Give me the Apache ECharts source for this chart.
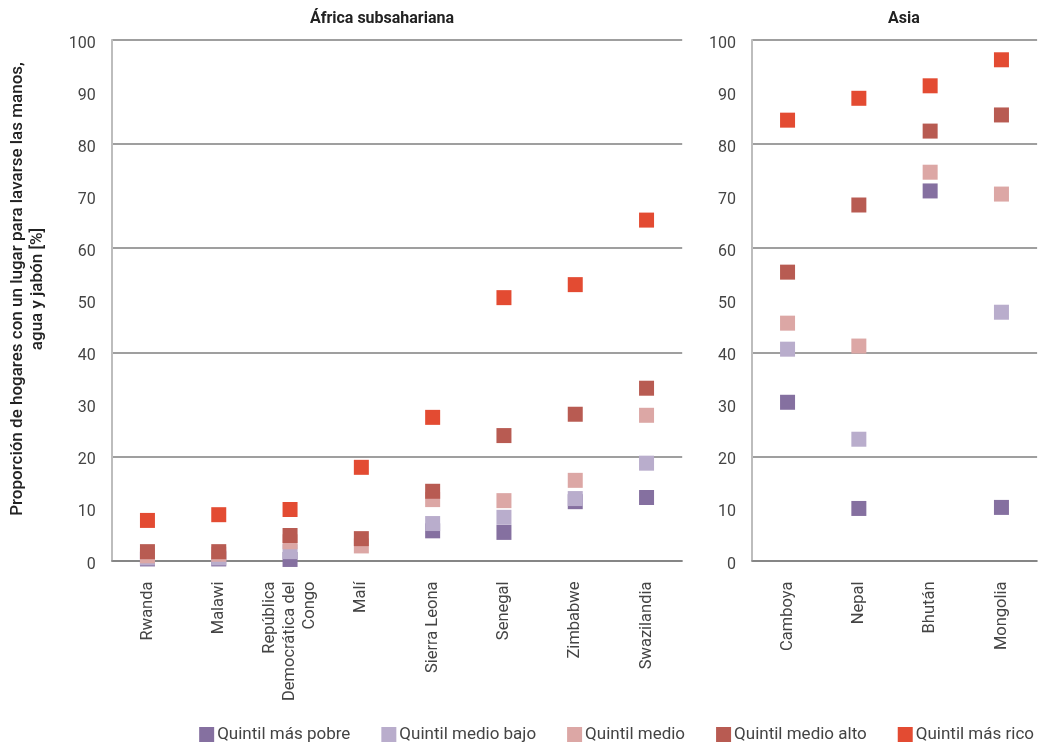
<!DOCTYPE html>
<html><head><meta charset="utf-8">
<script src="https://cdn.jsdelivr.net/npm/echarts@6/dist/echarts.min.js"></script>
<style>html,body{margin:0;padding:0;background:#fff}#c{width:1041px;height:742px}</style>
</head><body><div id="c"></div>
<script>
const africaCountries = ['Rwanda','Malawi','República\nDemocrática del\nCongo','Malí','Sierra Leona','Senegal','Zimbabwe','Swazilandia'];
const asiaCountries = ['Camboya','Nepal','Bhután','Mongolia'];
const quintileNames = ['Quintil más pobre','Quintil medio bajo','Quintil medio','Quintil medio alto','Quintil más rico'];
const quintileColors = ['#8570A0','#B9ADCC','#DCA7A5','#B85B52','#E34B32'];

const africaPoorest     = [0.3, 0.3, 0.2, null, 5.7, 5.4, 11.3, 12.1];
const africaLowerMiddle = [0.5, 0.5, 1.7, null, 7.1, 8.3, 11.9, 18.7];
const africaMiddle      = [0.9, 1.2, 3.6, 2.8, 11.7, 11.5, 15.4, 27.9];
const africaUpperMiddle = [1.7, 1.7, 4.8, 4.2, 13.3, 24.0, 28.1, 33.1];
const africaRichest     = [7.7, 8.8, 9.8, 17.9, 27.5, 50.5, 53.0, 65.4];

const asiaPoorest     = [30.4, 10.0, 71.0, 10.2];
const asiaLowerMiddle = [40.6, 23.3, null, 47.7];
const asiaMiddle      = [45.6, 41.2, 74.6, 70.4];
const asiaUpperMiddle = [55.4, 68.3, 82.5, 85.6];
const asiaRichest     = [84.6, 88.8, 91.2, 96.2];

const yTicks = [0,10,20,30,40,50,60,70,80,90,100];

const africaSeries = [africaPoorest, africaLowerMiddle, africaMiddle, africaUpperMiddle, africaRichest];
const asiaSeries = [asiaPoorest, asiaLowerMiddle, asiaMiddle, asiaUpperMiddle, asiaRichest];

const FONT = 'Roboto, "Noto Sans", sans-serif';
const gridTop = 40, gridBottom = 181.5;

function labelAxis(gridIndex){
  return {type:'value', gridIndex, min:yTicks[0], max:yTicks[yTicks.length-1], interval:10,
    axisLine:{show:true, lineStyle:{color:'#bdbdbd', width:2}},
    axisTick:{show:false}, splitLine:{show:false},
    axisLabel:{color:'#444', fontSize:16, fontFamily:FONT, margin:16,
      formatter:'{a|{value}}', rich:{a:{color:'#444', fontSize:16, fontFamily:FONT, padding:[8,0,0,0]}}}};
}
function splitAxis(gridIndex){
  return {type:'value', gridIndex, min:0, max:100, interval:20,
    axisLine:{show:false}, axisTick:{show:false}, axisLabel:{show:false},
    splitLine:{show:true, lineStyle:{color:'#7f7f7f', width:1.5}}};
}
function catAxis(gridIndex, data){
  return {type:'category', gridIndex, data, boundaryGap:true,
    axisLine:{show:true, lineStyle:{color:'#7f7f7f', width:1.5}},
    axisTick:{show:false},
    axisLabel:{rotate:90, color:'#444', fontSize:16.5, fontFamily:FONT, margin:21, interval:0, lineHeight:20}};
}

const series = [];
quintileNames.forEach((name, i) => {
  series.push({name, type:'scatter', xAxisIndex:0, yAxisIndex:0, symbol:'rect', symbolSize:15,
    itemStyle:{color:quintileColors[i], opacity:1}, data:africaSeries[i], clip:false, z:3+i});
  series.push({name, type:'scatter', xAxisIndex:1, yAxisIndex:2, symbol:'rect', symbolSize:15,
    itemStyle:{color:quintileColors[i], opacity:1}, data:asiaSeries[i], clip:false, z:3+i});
});

const chart = echarts.init(document.getElementById('c'), null, {renderer:'canvas'});
chart.setOption({
  animation:false,
  backgroundColor:'#fff',
  grid:[
    {left:111.8, width:570.4, top:gridTop, bottom:gridBottom},
    {left:751.9, width:285.2, top:gridTop, bottom:gridBottom}
  ],
  xAxis:[catAxis(0, africaCountries), catAxis(1, asiaCountries)],
  yAxis:[labelAxis(0), splitAxis(0), labelAxis(1), splitAxis(1)],
  legend:{data:quintileNames, right:2, top:721, icon:'rect', itemWidth:15, itemHeight:15, itemGap:31,
    textStyle:{color:'#444', fontSize:17, fontFamily:FONT, padding:[0,0,0,-2]}},
  graphic:[
    {type:'text', x:382, y:19, style:{text:'África subsahariana', fill:'#222', font:'bold 16px '+FONT, textAlign:'center', textVerticalAlign:'middle'}},
    {type:'text', x:904, y:19, style:{text:'Asia', fill:'#222', font:'bold 16px '+FONT, textAlign:'center', textVerticalAlign:'middle'}},
    {type:'text', x:28, y:289, rotation:Math.PI/2, style:{text:'Proporción de hogares con un lugar para lavarse las manos,\nagua y jabón [%]', fill:'#222', font:'500 17px '+FONT, textAlign:'center', textVerticalAlign:'middle', lineHeight:20}}
  ],
  series
});
</script></body></html>
